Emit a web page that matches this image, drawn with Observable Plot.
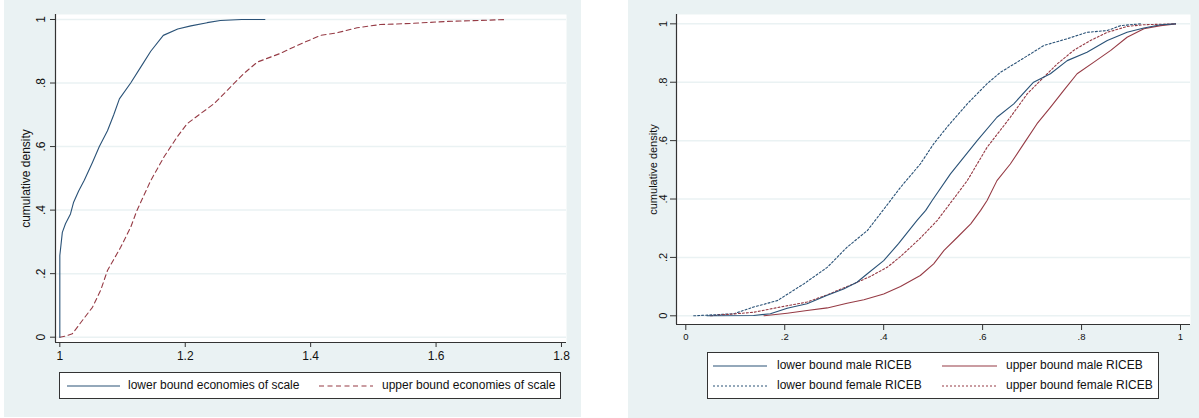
<!DOCTYPE html>
<html><head><meta charset="utf-8">
<script src="https://cdn.jsdelivr.net/npm/d3@7"></script>
<script src="https://cdn.jsdelivr.net/npm/@observablehq/plot@0.6"></script>
<style>
body{margin:0;background:#fff;font-family:"Liberation Sans",Arial,sans-serif;}
.panel{position:absolute;background:#eaf2f3;overflow:hidden;}
#p1{left:4px;top:0;width:577px;height:417px;}
#p2{left:628px;top:0;width:571px;height:418px;}
.panel svg.plotsvg{position:absolute;left:0;top:0;}
.legend{position:absolute;background:#fff;border:1px solid #333;box-sizing:border-box;color:#111;}
.legend .item{position:absolute;white-space:nowrap;line-height:1;}
.legend svg{position:absolute;overflow:visible;}
</style></head><body>
<div id="p1" class="panel"></div>
<div id="p2" class="panel"></div>
<script>
// ---------- Left panel data: economies of scale ECDF ----------
const lowerScaleX = [1.000,1.000,1.004,1.009,1.017,1.022,1.030,1.039,1.052,1.063,1.076,1.086,1.095,1.113,1.129,1.145,1.165,1.188,1.209,1.235,1.256,1.290,1.327];
const lowerScaleY = [0,0.257,0.330,0.357,0.388,0.425,0.460,0.494,0.550,0.600,0.650,0.700,0.750,0.800,0.850,0.900,0.950,0.970,0.980,0.990,0.997,1.000,1.000];
const upperScaleX = [1.000,1.010,1.020,1.038,1.052,1.065,1.076,1.097,1.113,1.123,1.145,1.166,1.187,1.203,1.224,1.246,1.272,1.293,1.315,1.350,1.384,1.416,1.442,1.474,1.511,1.564,1.618,1.671,1.713];
const upperScaleY = [0,0.004,0.011,0.058,0.094,0.147,0.210,0.283,0.346,0.399,0.493,0.567,0.630,0.672,0.703,0.735,0.787,0.829,0.866,0.892,0.923,0.950,0.958,0.974,0.984,0.988,0.994,0.997,1.000];
const leftXTicks = [1, 1.2, 1.4, 1.6, 1.8];
const leftYTicks = [0, 0.2, 0.4, 0.6, 0.8, 1];
const leftXDomain = [0.9931, 1.808];
const leftYDomain = [-0.0167, 1.0157];
const leftLegendLabels = ["lower bound economies of scale", "upper bound economies of scale"];

// ---------- Right panel data: RICEB ECDF ----------
const lowerMaleX = [0.043,0.137,0.171,0.205,0.245,0.286,0.319,0.346,0.367,0.400,0.430,0.467,0.485,0.498,0.535,0.589,0.629,0.663,0.703,0.737,0.771,0.811,0.852,0.892,0.926,0.960,0.990];
const lowerMaleY = [0,0.001,0.007,0.026,0.041,0.070,0.092,0.115,0.144,0.189,0.247,0.326,0.361,0.395,0.486,0.600,0.680,0.726,0.800,0.829,0.874,0.903,0.943,0.971,0.986,0.997,1.000];
const upperMaleX = [0.158,0.205,0.245,0.286,0.326,0.360,0.400,0.434,0.474,0.501,0.522,0.549,0.576,0.596,0.609,0.629,0.656,0.683,0.710,0.737,0.764,0.791,0.825,0.859,0.892,0.926,0.960,0.990];
const upperMaleY = [0,0.009,0.018,0.027,0.043,0.055,0.075,0.100,0.138,0.178,0.224,0.269,0.315,0.361,0.395,0.463,0.520,0.589,0.658,0.714,0.772,0.829,0.869,0.909,0.954,0.983,0.994,1.000];
const lowerFemaleX = [0.016,0.097,0.137,0.185,0.239,0.286,0.326,0.367,0.407,0.434,0.474,0.501,0.528,0.569,0.609,0.636,0.670,0.724,0.771,0.811,0.852,0.879,0.919];
const lowerFemaleY = [0,0.007,0.030,0.052,0.110,0.166,0.235,0.292,0.380,0.440,0.520,0.589,0.646,0.726,0.795,0.834,0.869,0.926,0.949,0.971,0.977,0.994,1.000];
const upperFemaleX = [0.050,0.137,0.191,0.245,0.286,0.340,0.373,0.407,0.434,0.474,0.508,0.541,0.569,0.609,0.656,0.690,0.717,0.751,0.784,0.818,0.852,0.892,0.926,0.990];
const upperFemaleY = [0,0.012,0.030,0.047,0.072,0.110,0.135,0.166,0.203,0.266,0.326,0.400,0.463,0.577,0.680,0.760,0.806,0.863,0.909,0.943,0.971,0.991,0.997,1.000];
const rightXTicks = [0, 0.2, 0.4, 0.6, 0.8, 1];
const rightYTicks = [0, 0.2, 0.4, 0.6, 0.8, 1];
const rightXDomain = [-0.0188, 1.0202];
const rightYDomain = [-0.0298, 1.032];
const rightLegendLabels = ["lower bound male RICEB", "upper bound male RICEB", "lower bound female RICEB", "upper bound female RICEB"];

const NAVY = "#2a5277", MAROON = "#963b45", BG = "#eaf2f3", AXIS = "#333";
const zipXY = (xs, ys) => xs.map((x, i) => ({x, y: ys[i]}));
const stataFmt = d => { const s = String(+d.toFixed(2)); return s.replace(/^0\./, "."); };
const FONT = '"Liberation Sans", Arial, sans-serif';

// ---------- Left plot ----------
const left = Plot.plot({
  width: 577, height: 370,
  marginLeft: 51, marginRight: 15, marginTop: 14, marginBottom: 28,
  style: {background: "transparent", fontFamily: FONT, fontSize: "12px", color: "#111", overflow: "visible"},
  x: {domain: leftXDomain},
  y: {domain: leftYDomain},
  marks: [
    Plot.frame({fill: "white", stroke: null}),
    Plot.gridY(leftYTicks, {stroke: BG, strokeOpacity: 1, strokeWidth: 1.5}),
    Plot.line(zipXY(upperScaleX, upperScaleY), {x: "x", y: "y", stroke: MAROON, strokeWidth: 1.1, strokeDasharray: "5,3.5"}),
    Plot.line(zipXY(lowerScaleX, lowerScaleY), {x: "x", y: "y", stroke: NAVY, strokeWidth: 1.1}),
    Plot.ruleX([leftXDomain[0]], {stroke: AXIS, strokeWidth: 1.2}),
    Plot.ruleY([leftYDomain[0]], {stroke: AXIS, strokeWidth: 1.2}),
    Plot.axisY(leftYTicks, {tickRotate: -90, tickFormat: stataFmt, tickSize: 5, tickPadding: 6, stroke: AXIS,
      label: "cumulative density", labelAnchor: "center", labelArrow: "none", labelOffset: 34}),
    Plot.axisX(leftXTicks, {tickFormat: stataFmt, tickSize: 5, tickPadding: 4, stroke: AXIS, label: null})
  ]
});
left.classList.add("plotsvg");
document.getElementById("p1").appendChild(left);

// ---------- Right plot ----------
const right = Plot.plot({
  width: 571, height: 350,
  marginLeft: 48, marginRight: 9, marginTop: 14, marginBottom: 26,
  style: {background: "transparent", fontFamily: FONT, fontSize: "9.5px", color: "#111", overflow: "visible"},
  x: {domain: rightXDomain},
  y: {domain: rightYDomain},
  marks: [
    Plot.frame({fill: "white", stroke: null}),
    Plot.gridY(rightYTicks, {stroke: BG, strokeOpacity: 1, strokeWidth: 1.5}),
    Plot.line(zipXY(lowerFemaleX, lowerFemaleY), {x: "x", y: "y", stroke: NAVY, strokeWidth: 1.1, strokeDasharray: "2,2"}),
    Plot.line(zipXY(upperFemaleX, upperFemaleY), {x: "x", y: "y", stroke: MAROON, strokeWidth: 1.1, strokeDasharray: "2,2"}),
    Plot.line(zipXY(upperMaleX, upperMaleY), {x: "x", y: "y", stroke: MAROON, strokeWidth: 1.1}),
    Plot.line(zipXY(lowerMaleX, lowerMaleY), {x: "x", y: "y", stroke: NAVY, strokeWidth: 1.1}),
    Plot.ruleX([rightXDomain[0]], {stroke: AXIS, strokeWidth: 1.2}),
    Plot.ruleY([rightYDomain[0]], {stroke: AXIS, strokeWidth: 1.2}),
    Plot.axisY(rightYTicks, {tickRotate: -90, tickFormat: stataFmt, tickSize: 6, tickPadding: 4, stroke: AXIS,
      label: "cumulative density", labelAnchor: "center", labelArrow: "none", labelOffset: 27, fontSize: 11}),
    Plot.axisX(rightXTicks, {tickFormat: stataFmt, tickSize: 6, tickPadding: 3, stroke: AXIS, label: null})
  ]
});
right.classList.add("plotsvg");
document.getElementById("p2").appendChild(right);

// ---------- Legends (HTML, below the SVGs) ----------
function sample(parent, x, y, w, color, dash) {
  const ns = "http://www.w3.org/2000/svg";
  const s = document.createElementNS(ns, "svg");
  s.setAttribute("width", w); s.setAttribute("height", 4);
  s.style.left = x + "px"; s.style.top = (y - 2) + "px";
  const l = document.createElementNS(ns, "line");
  l.setAttribute("x1", 0); l.setAttribute("x2", w); l.setAttribute("y1", 2); l.setAttribute("y2", 2);
  l.setAttribute("stroke", color); l.setAttribute("stroke-width", 1.1);
  if (dash) l.setAttribute("stroke-dasharray", dash);
  s.appendChild(l); parent.appendChild(s);
}
function label(parent, x, y, txt, size) {
  const d = document.createElement("div");
  d.className = "item"; d.textContent = txt;
  d.style.left = x + "px"; d.style.top = (y - size / 2 - 1) + "px"; d.style.fontSize = size + "px";
  parent.appendChild(d);
}
const lg1 = document.createElement("div");
lg1.className = "legend";
Object.assign(lg1.style, {left: "55px", top: "372px", width: "502px", height: "27px"});
sample(lg1, 7, 13, 53, NAVY, null);
label(lg1, 68, 13, leftLegendLabels[0], 12);
sample(lg1, 259, 13, 54, MAROON, "5,3.5");
label(lg1, 322, 13, leftLegendLabels[1], 12);
document.getElementById("p1").appendChild(lg1);

const lg2 = document.createElement("div");
lg2.className = "legend";
Object.assign(lg2.style, {left: "79px", top: "352px", width: "452px", height: "47px"});
sample(lg2, 5, 13, 54, NAVY, null);
label(lg2, 69, 13, rightLegendLabels[0], 12);
sample(lg2, 234, 13, 55, MAROON, null);
label(lg2, 298, 13, rightLegendLabels[1], 12);
sample(lg2, 5, 33, 54, NAVY, "2,2");
label(lg2, 69, 33, rightLegendLabels[2], 12);
sample(lg2, 234, 33, 55, MAROON, "2,2");
label(lg2, 298, 33, rightLegendLabels[3], 12);
document.getElementById("p2").appendChild(lg2);
</script>
</body></html>
